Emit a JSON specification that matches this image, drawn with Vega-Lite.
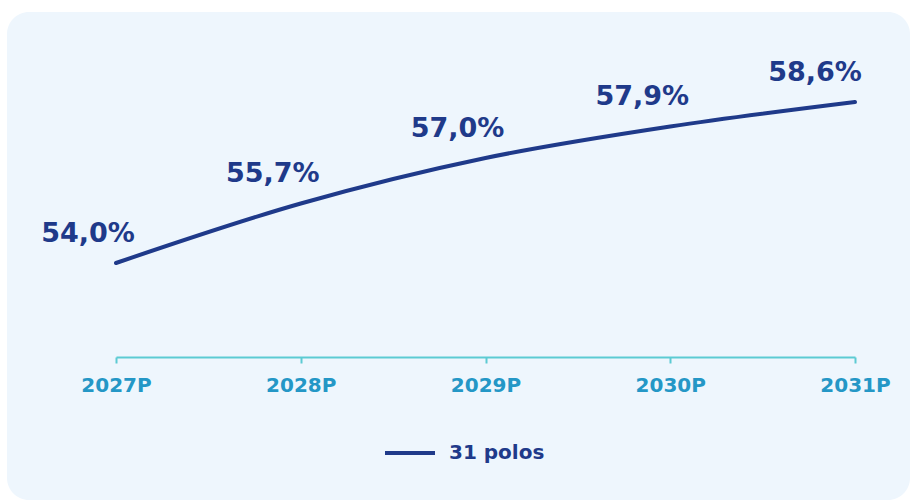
{
  "$schema": "https://vega.github.io/schema/vega-lite/v6.json",
  "width": 903,
  "height": 488,
  "autosize": {"type": "none"},
  "padding": {"left": 7, "top": 12, "right": 0, "bottom": 0},
  "background": "#ffffff",
  "config": {
    "view": {"fill": "#eef6fd", "stroke": null, "cornerRadius": 22},
    "font": "DejaVu Sans"
  },
  "data": {
    "values": [
      {"ano": "2027P", "valor": 54.0, "rotulo": "54,0%", "serie": "31 polos"},
      {"ano": "2028P", "valor": 55.7, "rotulo": "55,7%", "serie": "31 polos"},
      {"ano": "2029P", "valor": 57.0, "rotulo": "57,0%", "serie": "31 polos"},
      {"ano": "2030P", "valor": 57.9, "rotulo": "57,9%", "serie": "31 polos"},
      {"ano": "2031P", "valor": 58.6, "rotulo": "58,6%", "serie": "31 polos"}
    ]
  },
  "encoding": {
    "x": {
      "field": "ano",
      "type": "ordinal",
      "sort": null,
      "scale": {"type": "point", "range": [109, 848], "padding": 0},
      "axis": {
        "title": null,
        "orient": "bottom",
        "offset": -143,
        "labelAngle": 0,
        "domainColor": "#5ccbd3",
        "domainWidth": 2,
        "tickColor": "#5ccbd3",
        "tickWidth": 2,
        "tickSize": 6,
        "labelColor": "#2497c6",
        "labelFont": "DejaVu Sans",
        "labelFontSize": 20,
        "labelFontWeight": "bold",
        "labelPadding": 12,
        "grid": false
      }
    },
    "y": {
      "field": "valor",
      "type": "quantitative",
      "scale": {"domain": [47.23, 61.17], "zero": false, "nice": false},
      "axis": null
    }
  },
  "layer": [
    {
      "mark": {"type": "line", "interpolate": "monotone", "strokeWidth": 4, "strokeCap": "round"},
      "encoding": {
        "color": {
          "field": "serie",
          "type": "nominal",
          "scale": {"range": ["#1f3a8a"]},
          "legend": {
            "title": null,
            "orient": "none",
            "legendX": 376,
            "legendY": 414,
            "symbolType": "stroke",
            "symbolSize": 2500,
            "symbolStrokeWidth": 4,
            "labelFont": "DejaVu Sans",
            "labelFontSize": 20,
            "labelFontWeight": "bold",
            "labelColor": "#1f3a8a",
            "labelOffset": 12
          }
        }
      }
    },
    {
      "transform": [{"filter": "datum.ano != '2031P'"}],
      "mark": {"type": "text", "dx": -28, "dy": -29, "fontSize": 27, "fontWeight": "bold", "color": "#1f3a8a", "font": "DejaVu Sans"},
      "encoding": {"text": {"field": "rotulo"}}
    },
    {
      "transform": [{"filter": "datum.ano == '2031P'"}],
      "mark": {"type": "text", "dx": -40, "dy": -29, "fontSize": 27, "fontWeight": "bold", "color": "#1f3a8a", "font": "DejaVu Sans"},
      "encoding": {"text": {"field": "rotulo"}}
    }
  ]
}
